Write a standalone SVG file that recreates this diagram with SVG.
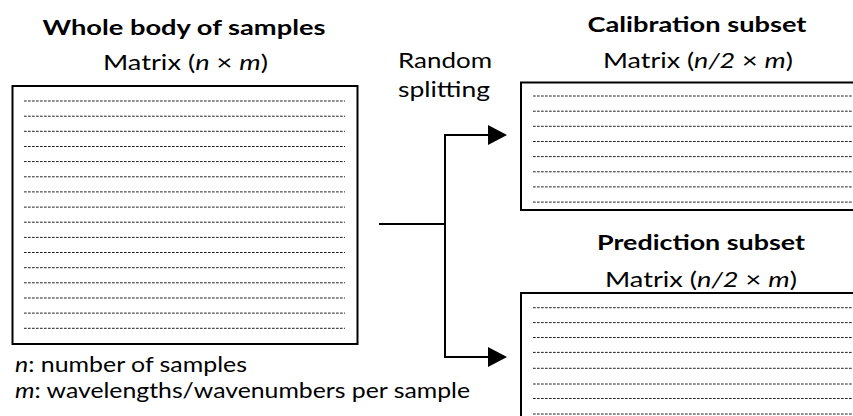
<svg xmlns="http://www.w3.org/2000/svg" width="853" height="416" viewBox="0 0 853 416">
<style>
  text { font-family: Lato, "Open Sans", "Liberation Sans", sans-serif; fill: #000; }
  .title { font-size: 20px; font-weight: bold; }
  .sub { font-size: 22px; }
  .note { font-size: 22px; }
  .box { fill: #fff; stroke: #000; stroke-width: 2; }
  .row { stroke: #222; stroke-width: 1; stroke-dasharray: 2.7 1.3; fill: none; }
  .conn { stroke: #000; stroke-width: 2; fill: none; }
</style>
<defs>
  <marker id="arrow" markerUnits="userSpaceOnUse" markerWidth="19" markerHeight="20" viewBox="0 0 19 20" refX="1" refY="10" orient="auto">
    <path d="M0,0 L19,10 L0,20 z" fill="#000"/>
  </marker>
</defs>
<rect width="853" height="416" fill="#fff"/>

<g id="whole-body">
  <text class="title" x="184" y="35" text-anchor="middle" textLength="283" lengthAdjust="spacingAndGlyphs">Whole body of samples</text>
  <text class="sub" x="185.5" y="70" text-anchor="middle" textLength="165" lengthAdjust="spacingAndGlyphs">Matrix (<tspan font-style="italic">n</tspan> × <tspan font-style="italic">m</tspan>)</text>
  <rect class="box" x="12.5" y="86" width="345" height="258"/>
  <path class="row" d="M24,101H345M24,116.2H345M24,131.3H345M24,146.5H345M24,161.6H345M24,176.8H345M24,191.9H345M24,207.1H345M24,222.2H345M24,237.4H345M24,252.5H345M24,267.7H345M24,282.8H345M24,298H345M24,313.1H345M24,328.3H345"/>
  <text class="note" x="15" y="372" textLength="232" lengthAdjust="spacingAndGlyphs"><tspan font-style="italic">n</tspan>: number of samples</text>
  <text class="note" x="15" y="398" textLength="455" lengthAdjust="spacingAndGlyphs"><tspan font-style="italic">m</tspan>: wavelengths/wavenumbers per sample</text>
</g>

<g id="random-splitting">
  <text class="sub" x="445" y="68" text-anchor="middle" textLength="94" lengthAdjust="spacingAndGlyphs">Random</text>
  <text class="sub" x="444" y="97" text-anchor="middle" textLength="92" lengthAdjust="spacingAndGlyphs">splitting</text>
</g>

<g id="calibration">
  <text class="title" x="697" y="32" text-anchor="middle" textLength="219" lengthAdjust="spacingAndGlyphs">Calibration subset</text>
  <text class="sub" x="698" y="68" text-anchor="middle" textLength="190" lengthAdjust="spacingAndGlyphs">Matrix (<tspan font-style="italic">n/2</tspan> × <tspan font-style="italic">m</tspan>)</text>
  <rect class="box" x="521" y="82.5" width="345" height="127.5"/>
  <path class="row" d="M533,96H853M533,111.2H853M533,126.3H853M533,141.5H853M533,156.6H853M533,171.8H853M533,186.9H853M533,202.1H853"/>
</g>

<g id="prediction">
  <text class="title" x="701" y="250" text-anchor="middle" textLength="208" lengthAdjust="spacingAndGlyphs">Prediction subset</text>
  <text class="sub" x="701" y="286.5" text-anchor="middle" textLength="192" lengthAdjust="spacingAndGlyphs">Matrix (<tspan font-style="italic">n/2</tspan> × <tspan font-style="italic">m</tspan>)</text>
  <rect class="box" x="521" y="293" width="345" height="140"/>
  <path class="row" d="M533,307.7H853M533,322.6H853M533,337.5H853M533,352.4H853M533,368.3H853M533,384H853M533,398.5H853M533,414H853"/>
</g>

<g id="connectors">
  <path class="conn" d="M379,224H445"/>
  <path class="conn" d="M445,134V358"/>
  <path class="conn" d="M444,135H489" marker-end="url(#arrow)"/>
  <path class="conn" d="M444,357H489" marker-end="url(#arrow)"/>
</g>
</svg>
